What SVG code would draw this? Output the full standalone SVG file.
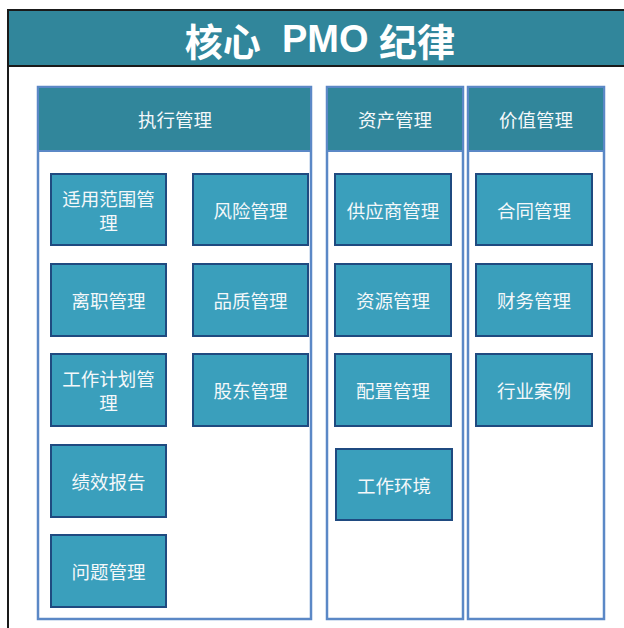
<svg xmlns="http://www.w3.org/2000/svg" width="624" height="628" viewBox="0 0 624 628">
<style>
.col{fill:#ffffff;stroke:#5B88C6;stroke-width:2.5}
.hdr{fill:#31869B;stroke:#5B88C6;stroke-width:2}
.box{fill:#3A9FBC;stroke:#1F4A80;stroke-width:2}
.t{font-family:"Noto Sans CJK SC","Microsoft YaHei",sans-serif;font-size:18.5px;fill:#F4F8FA;text-anchor:middle;dominant-baseline:central}
.title{font-family:"Liberation Sans","Noto Sans CJK SC",sans-serif;font-size:38px;font-weight:bold;fill:#ffffff;text-anchor:middle;dominant-baseline:central;white-space:pre}
</style>
<rect x="0" y="0" width="624" height="628" fill="#ffffff"/>
<g id="titlebar">
<rect x="8" y="10" width="620" height="56" fill="#31869B" stroke="#1a1a1a" stroke-width="2"/>
<line x1="8" y1="66" x2="8" y2="628" stroke="#1a1a1a" stroke-width="2"/>
<text class="title" x="320" y="39" xml:space="preserve"><tspan font-family="Noto Sans CJK SC,sans-serif">核心</tspan>  PMO <tspan font-family="Noto Sans CJK SC,sans-serif">纪律</tspan></text>
</g>
<g id="col-exec">
<rect class="col" x="38" y="87" width="273" height="532"/>
<rect class="hdr" x="38" y="87" width="273" height="64"/>
<text class="t" x="175" y="119">执行管理</text>
</g>
<g id="col-asset">
<rect class="col" x="327" y="87" width="136" height="532"/>
<rect class="hdr" x="327" y="87" width="136" height="64"/>
<text class="t" x="395" y="119">资产管理</text>
</g>
<g id="col-value">
<rect class="col" x="468" y="87" width="136" height="532"/>
<rect class="hdr" x="468" y="87" width="136" height="64"/>
<text class="t" x="536" y="119">价值管理</text>
</g>
<g id="n-scope"><rect class="box" x="51" y="174" width="115" height="71"/><text class="t" x="108.5" y="198">适用范围管</text><text class="t" x="108.5" y="222">理</text></g>
<g id="n-risk"><rect class="box" x="193" y="174" width="115" height="71"/><text class="t" x="250.5" y="209.5">风险管理</text></g>
<g id="n-leave"><rect class="box" x="51" y="264" width="115" height="72"/><text class="t" x="108.5" y="300">离职管理</text></g>
<g id="n-quality"><rect class="box" x="193" y="264" width="115" height="72"/><text class="t" x="250.5" y="300">品质管理</text></g>
<g id="n-plan"><rect class="box" x="51" y="354" width="115" height="72"/><text class="t" x="108.5" y="378">工作计划管</text><text class="t" x="108.5" y="402">理</text></g>
<g id="n-share"><rect class="box" x="193" y="354" width="115" height="72"/><text class="t" x="250.5" y="390">股东管理</text></g>
<g id="n-perf"><rect class="box" x="51" y="445" width="115" height="72"/><text class="t" x="108.5" y="481">绩效报告</text></g>
<g id="n-issue"><rect class="box" x="51" y="535" width="115" height="72"/><text class="t" x="108.5" y="571">问题管理</text></g>
<g id="n-supplier"><rect class="box" x="335" y="174" width="116" height="71"/><text class="t" x="393" y="209.5">供应商管理</text></g>
<g id="n-resource"><rect class="box" x="335" y="264" width="116" height="72"/><text class="t" x="393" y="300">资源管理</text></g>
<g id="n-config"><rect class="box" x="335" y="354" width="116" height="72"/><text class="t" x="393" y="390">配置管理</text></g>
<g id="n-env"><rect class="box" x="336" y="449" width="116" height="71"/><text class="t" x="394" y="484.5">工作环境</text></g>
<g id="n-contract"><rect class="box" x="476" y="174" width="116" height="71"/><text class="t" x="534" y="209.5">合同管理</text></g>
<g id="n-finance"><rect class="box" x="476" y="264" width="116" height="72"/><text class="t" x="534" y="300">财务管理</text></g>
<g id="n-case"><rect class="box" x="476" y="354" width="116" height="72"/><text class="t" x="534" y="390">行业案例</text></g>
<g id="connectors"></g>
</svg>
